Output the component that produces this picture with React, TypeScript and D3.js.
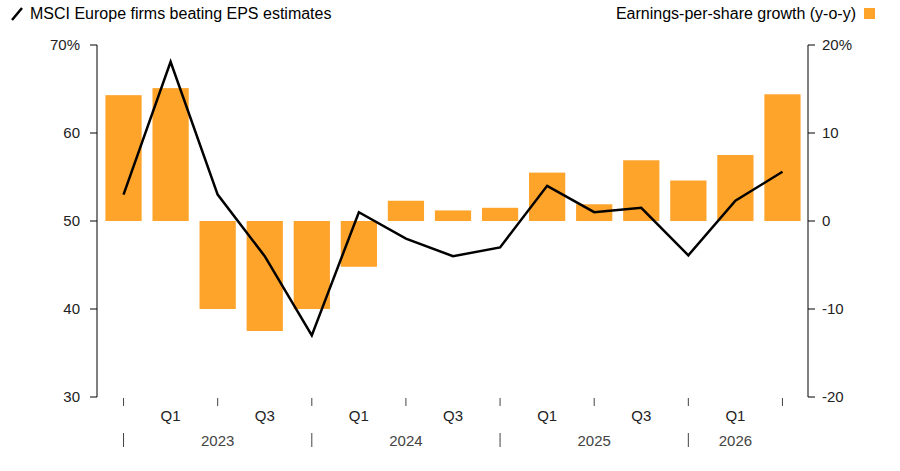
import React from "react";
import * as d3 from "d3";

const quarters = ["Q4","Q1","Q2","Q3","Q4","Q1","Q2","Q3","Q4","Q1","Q2","Q3","Q4","Q1","Q2"];
const epsGrowth = [14.3,15.1,-10,-12.5,-10,-5.2,2.3,1.2,1.5,5.5,1.9,6.9,4.6,7.5,14.4];
const beatShare = [53,68.1,53,46,37,51,48,46,47,54,51,51.5,46.1,52.3,55.6];
const leftTicks = [30,40,50,60,70];
const rightTicks = [-20,-10,0,10,20];
const years = [{label:"2023",at:2},{label:"2024",at:6},{label:"2025",at:10},{label:"2026",at:13}];
const yearSeps = [0,4,8,12];

export default function App() {
  const W = 900, H = 471;
  const idx = quarters.map((_, i) => i);
  const x = d3.scaleBand<number>().domain(idx).range([100, 806]).paddingInner(0.23).paddingOuter(0.115);
  const cx = (i: number) => (x(i) as number) + x.bandwidth() / 2;
  const yL = d3.scaleLinear().domain([30, 70]).range([397, 45]);
  const yR = d3.scaleLinear().domain([-20, 20]).range([397, 45]);
  const line = d3.line<number>().x((_, i) => cx(i)).y(d => yL(d));
  const font = "Liberation Sans, Arial, sans-serif";
  return (
    <svg width={W} height={H} style={{ position: "absolute", left: 0, top: 0 }} fontFamily={font}>
      <rect width={W} height={H} fill="#fff" />
      <line x1={12} y1={20} x2={22} y2={8} stroke="#000" strokeWidth={2.5} />
      <text x={30} y={19} fontSize={16} fill="#000">MSCI Europe firms beating EPS estimates</text>
      <text x={856} y={19} fontSize={16} fill="#000" textAnchor="end">Earnings-per-share growth (y-o-y)</text>
      <rect x={864} y={8} width={11} height={11} fill="#FFA42B" />
      {epsGrowth.map((v, i) => (
        <rect key={i} x={x(i)} width={x.bandwidth()} y={yR(Math.max(0, v))} height={Math.abs(yR(v) - yR(0))} fill="#FFA42B" />
      ))}
      <path d={line(beatShare) || ""} fill="none" stroke="#000" strokeWidth={2.5} strokeLinejoin="miter" />
      <line x1={97} x2={97} y1={45} y2={397} stroke="#000" />
      <line x1={808} x2={808} y1={45} y2={397} stroke="#000" />
      {leftTicks.map(t => (
        <g key={t}>
          <line x1={90} x2={97} y1={yL(t)} y2={yL(t)} stroke="#000" />
          <text x={80} y={yL(t) + 5} fontSize={15} textAnchor="end" fill="#222">{t === 70 ? "70%" : t}</text>
        </g>
      ))}
      {rightTicks.map(t => (
        <g key={t}>
          <line x1={808} x2={815} y1={yR(t)} y2={yR(t)} stroke="#000" />
          <text x={822} y={yR(t) + 5} fontSize={15} fill="#222">{t === 20 ? "20%" : t}</text>
        </g>
      ))}
      {idx.filter(i => i % 2 === 0).map(i => (
        <line key={i} x1={cx(i)} x2={cx(i)} y1={398} y2={406} stroke="#444" />
      ))}
      {idx.filter(i => quarters[i] === "Q1" || quarters[i] === "Q3").map(i => (
        <text key={i} x={cx(i)} y={421} fontSize={15} textAnchor="middle" fill="#222">{quarters[i]}</text>
      ))}
      {yearSeps.map(i => (
        <line key={i} x1={cx(i)} x2={cx(i)} y1={433} y2={447} stroke="#444" />
      ))}
      {years.map(y => (
        <text key={y.label} x={cx(y.at)} y={446} fontSize={15} textAnchor="middle" fill="#444">{y.label}</text>
      ))}
    </svg>
  );
}
